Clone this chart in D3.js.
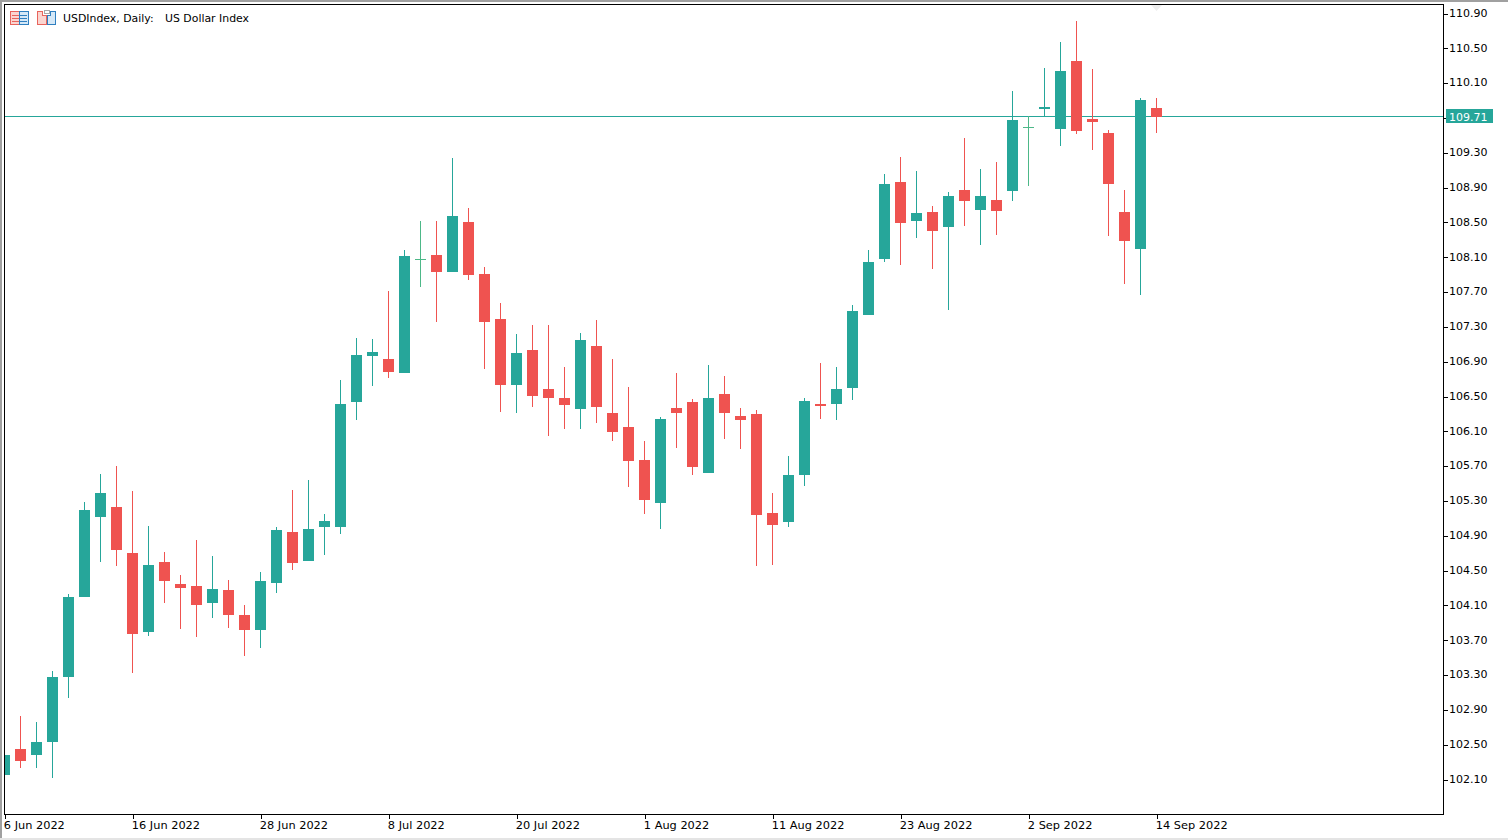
<!DOCTYPE html>
<html>
<head>
<meta charset="utf-8">
<title>USDIndex, Daily</title>
<script src="https://cdn.jsdelivr.net/npm/d3@7"></script>
<style>
  html, body { margin: 0; padding: 0; background: #fff; overflow: hidden; }
  svg { display: block; }
  text { font-family: "DejaVu Sans", sans-serif; font-size: 11px; fill: #000; }
</style>
</head>
<body>
<svg id="graph" width="1508" height="840"></svg>
<script>
const dates = [
  "6 Jun 2022", "7 Jun 2022", "8 Jun 2022", "9 Jun 2022", "10 Jun 2022",
  "13 Jun 2022", "14 Jun 2022", "15 Jun 2022", "16 Jun 2022", "17 Jun 2022",
  "20 Jun 2022", "21 Jun 2022", "22 Jun 2022", "23 Jun 2022", "24 Jun 2022",
  "27 Jun 2022", "28 Jun 2022", "29 Jun 2022", "30 Jun 2022", "1 Jul 2022",
  "4 Jul 2022", "5 Jul 2022", "6 Jul 2022", "7 Jul 2022", "8 Jul 2022",
  "11 Jul 2022", "12 Jul 2022", "13 Jul 2022", "14 Jul 2022", "15 Jul 2022",
  "18 Jul 2022", "19 Jul 2022", "20 Jul 2022", "21 Jul 2022", "22 Jul 2022",
  "25 Jul 2022", "26 Jul 2022", "27 Jul 2022", "28 Jul 2022", "29 Jul 2022",
  "1 Aug 2022", "2 Aug 2022", "3 Aug 2022", "4 Aug 2022", "5 Aug 2022",
  "8 Aug 2022", "9 Aug 2022", "10 Aug 2022", "11 Aug 2022", "12 Aug 2022",
  "15 Aug 2022", "16 Aug 2022", "17 Aug 2022", "18 Aug 2022", "19 Aug 2022",
  "22 Aug 2022", "23 Aug 2022", "24 Aug 2022", "25 Aug 2022", "26 Aug 2022",
  "29 Aug 2022", "30 Aug 2022", "31 Aug 2022", "1 Sep 2022", "2 Sep 2022",
  "5 Sep 2022", "6 Sep 2022", "7 Sep 2022", "8 Sep 2022", "9 Sep 2022",
  "12 Sep 2022", "13 Sep 2022", "14 Sep 2022",
];

const opens = [
  102.152, 102.450, 102.382, 102.531, 103.278, 104.197, 105.116, 105.231, 104.702, 103.795,
  104.599, 104.346, 104.323, 104.128, 104.277, 103.990, 103.818, 104.357, 104.943, 104.610,
  105.001, 105.001, 106.437, 106.965, 106.931, 106.770, 108.080, 108.126, 107.930, 108.505,
  107.907, 107.390, 106.632, 107.034, 106.586, 106.483, 106.356, 107.080, 106.310, 106.150,
  105.771, 105.277, 106.368, 106.437, 105.621, 106.529, 106.276, 106.299, 105.162, 105.058,
  105.598, 106.414, 106.414, 106.598, 107.436, 108.080, 108.964, 108.516, 108.620, 108.447,
  108.872, 108.643, 108.757, 108.861, 109.596, 109.803, 109.573, 110.354, 109.688, 109.527,
  108.620, 108.194, 109.814,
];
const highs = [
  102.382, 102.830, 102.761, 103.347, 104.231, 105.288, 105.610, 105.702, 105.414, 105.012,
  104.714, 104.449, 104.851, 104.668, 104.392, 104.105, 104.484, 105.001, 105.426, 105.541,
  105.150, 106.690, 107.172, 107.161, 107.712, 108.183, 108.516, 108.516, 109.240, 108.665,
  107.988, 107.574, 107.218, 107.321, 107.321, 106.839, 107.229, 107.379, 106.931, 106.609,
  105.989, 106.265, 106.770, 106.471, 106.862, 106.736, 106.368, 106.345, 105.391, 105.816,
  106.483, 106.885, 106.839, 107.551, 108.183, 109.056, 109.251, 109.091, 108.688, 108.849,
  109.470, 109.114, 109.194, 110.010, 109.722, 110.274, 110.573, 110.814, 110.262, 109.562,
  108.872, 109.929, 109.929,
];
const lows = [
  102.152, 102.232, 102.232, 102.117, 103.036, 104.197, 104.599, 104.553, 103.324, 103.749,
  104.128, 103.829, 103.737, 103.955, 103.841, 103.519, 103.611, 104.243, 104.507, 104.610,
  104.679, 104.920, 106.230, 106.621, 106.713, 106.770, 107.758, 107.356, 107.930, 107.838,
  106.816, 106.322, 106.310, 106.379, 106.046, 106.127, 106.127, 106.196, 105.989, 105.460,
  105.150, 104.978, 105.908, 105.598, 105.621, 106.012, 105.897, 104.553, 104.564, 105.001,
  105.472, 106.242, 106.230, 106.460, 107.436, 108.045, 108.011, 108.321, 107.965, 107.494,
  108.459, 108.240, 108.355, 108.746, 108.918, 109.722, 109.378, 109.516, 109.332, 108.344,
  107.792, 107.666, 109.527,
];
const closes = [
  102.382, 102.313, 102.531, 103.278, 104.197, 105.196, 105.391, 104.737, 103.772, 104.564,
  104.380, 104.300, 104.105, 104.289, 103.990, 103.818, 104.380, 104.966, 104.587, 104.978,
  105.070, 106.414, 106.977, 107.011, 106.781, 108.114, 108.080, 107.930, 108.574, 107.896,
  107.356, 106.632, 107.000, 106.506, 106.483, 106.402, 107.149, 106.379, 106.092, 105.759,
  105.311, 106.242, 106.310, 105.690, 106.483, 106.310, 106.230, 105.139, 105.024, 105.598,
  106.448, 106.391, 106.586, 107.482, 108.045, 108.941, 108.493, 108.608, 108.401, 108.803,
  108.746, 108.803, 108.631, 109.676, 109.596, 109.826, 110.239, 109.550, 109.653, 108.941,
  108.286, 109.906, 109.711,
];

const price_ticks = [
  110.9, 110.5, 110.1, 109.3, 108.9, 108.5, 108.1, 107.7, 107.3, 106.9, 106.5, 106.1,
  105.7, 105.3, 104.9, 104.5, 104.1, 103.7, 103.3, 102.9, 102.5, 102.1,
];
const date_ticks = [
  "6 Jun 2022", "16 Jun 2022", "28 Jun 2022", "8 Jul 2022", "20 Jul 2022",
  "1 Aug 2022", "11 Aug 2022", "23 Aug 2022", "2 Sep 2022", "14 Sep 2022",
];
const last_price = 109.71;

const up_color = "#26a69a";
const down_color = "#ef5350";
const doji_color = "#4db888";

const plot_left = 4;
const plot_right = 1443;
const plot_top = 4;
const plot_bottom = 814;
const candle_width = 11;

const svg = d3.select("#graph");

const x = d3
  .scalePoint()
  .domain(dates)
  .range([4.5, 4.5 + 16 * (dates.length - 1)]);
const y = d3.scaleLinear().domain([102.1, 110.9]).range([779.5, 13.5]);
// pixel row of the last price line
const last_price_row = Math.floor(y(last_price) - 0.6);

// window edges
svg.append("rect").attr("width", 1508).attr("height", 840).attr("fill", "#fff");
svg.append("rect").attr("width", 1508).attr("height", 2).attr("fill", "#a0a0a0");
svg.append("rect").attr("width", 2).attr("height", 840).attr("fill", "#a0a0a0");
svg.append("rect").attr("y", 838).attr("width", 1508).attr("height", 2).attr("fill", "#e4e4e4");

svg
  .append("clipPath")
  .attr("id", "plot-clip")
  .append("rect")
  .attr("x", plot_left)
  .attr("y", plot_top)
  .attr("width", plot_right - plot_left)
  .attr("height", plot_bottom - plot_top);

// last price line sits behind the candles
const plot = svg.append("g").attr("clip-path", "url(#plot-clip)").attr("shape-rendering", "crispEdges");

plot
  .append("rect")
  .attr("x", plot_left)
  .attr("width", plot_right - plot_left)
  .attr("y", last_price_row)
  .attr("height", 1)
  .attr("fill", up_color);

// scroll marker at the top of the plot
plot
  .append("path")
  .attr("d", "M1151 5H1162L1156.5 11Z")
  .attr("fill", "#eeeeee")
  .attr("shape-rendering", "auto");

const candle_color = (i) => {
  if (opens[i] === closes[i]) return doji_color;
  return closes[i] > opens[i] ? up_color : down_color;
};

const candles = plot
  .selectAll("g.candle")
  .data(dates)
  .join("g")
  .attr("class", "candle");

candles
  .append("line")
  .attr("x1", (d) => x(d))
  .attr("x2", (d) => x(d))
  .attr("y1", (d, i) => y(highs[i]))
  .attr("y2", (d, i) => y(lows[i]))
  .attr("stroke", (d, i) => candle_color(i));

candles
  .append("rect")
  .attr("x", (d) => x(d) - candle_width / 2)
  .attr("width", candle_width)
  .attr("y", (d, i) => y(Math.max(opens[i], closes[i])))
  .attr("height", (d, i) => Math.max(1, Math.abs(y(opens[i]) - y(closes[i]))))
  .attr("fill", (d, i) => candle_color(i));

// price axis
const y_axis = svg
  .append("g")
  .attr("transform", `translate(${plot_right},0)`)
  .attr("shape-rendering", "crispEdges")
  .call(
    d3
      .axisRight(y)
      .tickValues(price_ticks.concat([109.7]))
      .tickSize(5)
      .tickPadding(1)
      .tickFormat((d) => (d === 109.7 ? "" : d3.format(".2f")(d)))
  );
y_axis.select(".domain").remove();
y_axis.selectAll("line").attr("stroke", "#000");
y_axis.selectAll("text").attr("fill", "#000").attr("transform", "translate(0,-0.7)");

// date axis, labels start at their tick
const x_axis = svg
  .append("g")
  .attr("transform", `translate(0,${plot_bottom})`)
  .attr("shape-rendering", "crispEdges")
  .call(d3.axisBottom(x).tickValues(date_ticks).tickSize(5).tickPadding(2));
x_axis.select(".domain").remove();
x_axis.selectAll("line").attr("stroke", "#000");
x_axis
  .selectAll("text")
  .attr("text-anchor", "start")
  .attr("dx", -1.2)
  .attr("fill", "#000")
  .style("font-size", "11.35px");

// plot frame
svg
  .append("rect")
  .attr("x", plot_left + 0.5)
  .attr("y", plot_top + 0.5)
  .attr("width", plot_right - plot_left)
  .attr("height", plot_bottom - plot_top)
  .attr("fill", "none")
  .attr("stroke", "#000")
  .attr("shape-rendering", "crispEdges");

// last price label
const price_label = svg.append("g");
price_label
  .append("rect")
  .attr("x", 1446)
  .attr("y", last_price_row - 7)
  .attr("width", 47)
  .attr("height", 14)
  .attr("fill", up_color);
price_label
  .append("text")
  .attr("x", 1449)
  .attr("y", last_price_row + 4.5)
  .style("fill", "#fff")
  .text(d3.format(".2f")(last_price));

// header icons
const icons = svg.append("g").attr("shape-rendering", "crispEdges");
icons.append("rect").attr("x", 10.5).attr("y", 11.5).attr("width", 9).attr("height", 13).attr("fill", "#fbd5d0").attr("stroke", "#e8645c");
icons.append("rect").attr("x", 19.5).attr("y", 11.5).attr("width", 9).attr("height", 13).attr("fill", "#d5e8f7").attr("stroke", "#2f7fc0");
[15, 18, 21].forEach((line_y) => {
  icons.append("rect").attr("x", 12).attr("y", line_y).attr("width", 7).attr("height", 1).attr("fill", "#e8645c");
  icons.append("rect").attr("x", 20).attr("y", line_y).attr("width", 7).attr("height", 1).attr("fill", "#2f7fc0");
});
icons.append("path").attr("d", "M37.5 11.5H42.5V15.5H46.5V24.5H37.5Z").attr("fill", "#fbd5d0").attr("stroke", "#e8645c");
icons.append("path").attr("d", "M47.5 15.5H50.5V11.5H55.5V24.5H47.5Z").attr("fill", "#d5e8f7").attr("stroke", "#2f7fc0");
icons.append("rect").attr("x", 44.5).attr("y", 10.5).attr("width", 5).attr("height", 3).attr("fill", "#fff").attr("stroke", "#a8a8a8");

// header text
svg.append("text").attr("x", 63).attr("y", 22).style("font-size", "10.9px").text("USDIndex, Daily:");
svg.append("text").attr("x", 165).attr("y", 22).style("font-size", "10.9px").text("US Dollar Index");
</script>
</body>
</html>
